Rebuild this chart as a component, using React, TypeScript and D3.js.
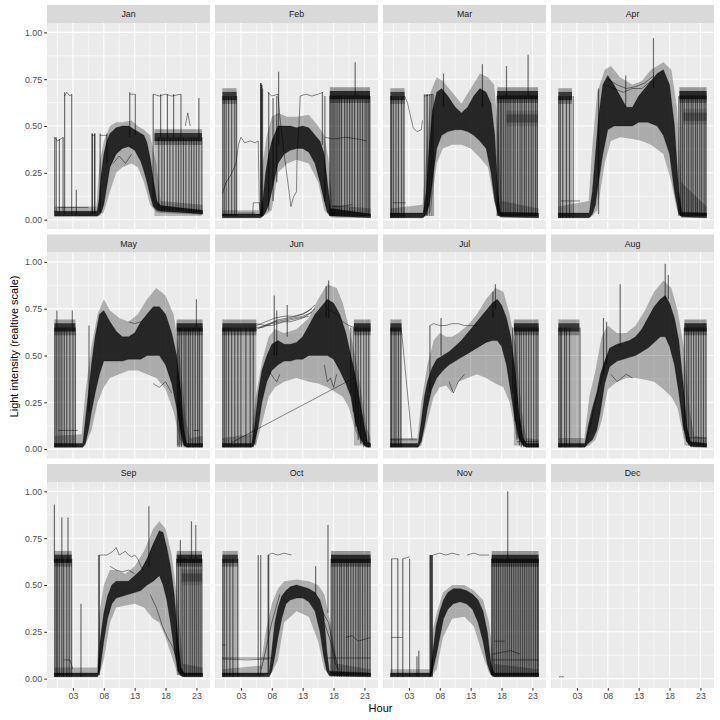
import React, { useEffect, useRef } from 'react';
import * as d3 from 'd3';

type Band = [number, number, number][]; // [hour, low, high]
type Lamp = [number, number, number, number, number][]; // [from, to, level, density, curtain]
type Switch = [number, number, number][]; // [hour, low, high]
type Stray = [number, number][][]; // grey single traces

const MONTHS = ['Jan', 'Feb', 'Mar', 'Apr', 'May', 'Jun', 'Jul', 'Aug', 'Sep', 'Oct', 'Nov', 'Dec'];
const X_BREAKS = [3, 8, 13, 18, 23];
const X_LABELS = ['03', '08', '13', '18', '23'];
const X_MINOR = [0.5, 5.5, 10.5, 15.5, 20.5];
const Y_BREAKS = [0, 0.25, 0.5, 0.75, 1];
const Y_LABELS = ['0.00', '0.25', '0.50', '0.75', '1.00'];
const Y_MINOR = [0.125, 0.375, 0.625, 0.875];

// ---- Jan
const janCore: Band = [[0, 0.02, 0.045], [6.9, 0.02, 0.045], [7.2, 0.025, 0.1], [7.6, 0.04, 0.25], [8, 0.08, 0.35], [8.5, 0.18, 0.42], [9, 0.28, 0.46], [10, 0.35, 0.49], [11, 0.38, 0.5], [12, 0.39, 0.5], [13, 0.37, 0.48], [14, 0.31, 0.46], [14.5, 0.26, 0.45], [15, 0.2, 0.41], [15.5, 0.13, 0.33], [16, 0.07, 0.22], [16.6, 0.05, 0.1], [17.2, 0.045, 0.075], [20, 0.04, 0.065], [24, 0.03, 0.05]];
const janHalo: Band = [[0, 0.015, 0.07], [6.8, 0.015, 0.07], [7.3, 0.02, 0.3], [8, 0.04, 0.42], [9, 0.15, 0.5], [10, 0.25, 0.52], [11, 0.28, 0.52], [12.5, 0.3, 0.53], [13.5, 0.28, 0.5], [14.5, 0.2, 0.48], [15.5, 0.08, 0.45], [16.5, 0.04, 0.3], [17.2, 0.035, 0.1], [24, 0.025, 0.08]];
const janLamp: Lamp = [[16.2, 23.9, 0.44, 0.85, 0.22]];
const janSwitch: Switch = [[0.05, 0.04, 0.44], [0.3, 0.04, 0.44], [0.8, 0.04, 0.43], [1.4, 0.04, 0.44], [1.65, 0.03, 0.68], [2.8, 0.03, 0.67], [3.55, 0.03, 0.16], [6.1, 0.03, 0.46], [6.15, 0.03, 0.46], [6.5, 0.03, 0.46], [6.55, 0.03, 0.46], [7.4, 0.04, 0.46], [8.5, 0.3, 0.46], [12.2, 0.44, 0.68], [13.1, 0.45, 0.67], [16.0, 0.1, 0.67], [16.9, 0.06, 0.44], [17.2, 0.44, 0.67], [17.4, 0.05, 0.44], [17.8, 0.05, 0.44], [18.3, 0.05, 0.67], [18.7, 0.05, 0.44], [19.2, 0.05, 0.44], [19.3, 0.44, 0.67], [19.7, 0.05, 0.44], [20.1, 0.05, 0.44], [20.5, 0.05, 0.67], [20.9, 0.05, 0.44], [21.3, 0.05, 0.44], [21.8, 0.04, 0.44], [22.2, 0.04, 0.44], [22.6, 0.04, 0.44], [23.0, 0.04, 0.44], [23.4, 0.04, 0.65], [23.9, 0.03, 0.44]];
const janStray: Stray = [
  [[0, 0.44], [0.5, 0.42], [1.0, 0.43], [1.4, 0.44]],
  [[1.65, 0.66], [2.0, 0.68], [2.5, 0.66], [2.8, 0.67]],
  [[0.5, 0.065], [5.5, 0.065]],
  [[6.1, 0.45], [6.5, 0.45]],
  [[7.4, 0.45], [8.5, 0.45]],
  [[12.2, 0.67], [13.1, 0.67]],
  [[16, 0.67], [17, 0.66], [18, 0.67], [19, 0.66], [20.5, 0.67]],
  [[21.2, 0.5], [21.6, 0.57], [22, 0.5]],
  [[9.5, 0.3], [10.5, 0.34], [11.5, 0.3], [12.5, 0.35]],
];

// ---- Feb
const febCore: Band = [[0, 0.01, 0.03], [6.2, 0.01, 0.03], [6.6, 0.02, 0.12], [7, 0.04, 0.25], [7.5, 0.08, 0.35], [8, 0.15, 0.42], [9, 0.3, 0.5], [10, 0.35, 0.5], [11, 0.37, 0.5], [12, 0.38, 0.49], [13, 0.38, 0.5], [14, 0.36, 0.49], [15, 0.3, 0.45], [15.8, 0.2, 0.42], [16.5, 0.1, 0.35], [17, 0.04, 0.2], [17.5, 0.02, 0.06], [24, 0.01, 0.03]];
const febHalo: Band = [[0, 0.01, 0.05], [6.1, 0.01, 0.05], [6.5, 0.02, 0.3], [7.2, 0.03, 0.45], [8, 0.05, 0.55], [9, 0.25, 0.57], [10.5, 0.3, 0.55], [12, 0.32, 0.55], [14, 0.3, 0.56], [15.5, 0.2, 0.5], [16.5, 0.05, 0.45], [17.3, 0.02, 0.3], [17.8, 0.01, 0.08], [24, 0.01, 0.06]];
const febLamp: Lamp = [[0, 2.3, 0.66, 0.8, 0.22], [17.4, 23.9, 0.665, 0.9, 0.32]];
const febSwitch: Switch = [[0.05, 0.02, 0.66], [0.3, 0.02, 0.66], [0.6, 0.02, 0.66], [1.0, 0.02, 0.66], [1.5, 0.02, 0.66], [2.0, 0.02, 0.66], [2.3, 0.02, 0.66], [6.2, 0.02, 0.73], [6.25, 0.02, 0.73], [6.3, 0.02, 0.72], [6.4, 0.02, 0.72], [6.5, 0.02, 0.7], [7.5, 0.05, 0.68], [8.2, 0.1, 0.65], [8.8, 0.2, 0.66], [9.1, 0.4, 0.79], [16.2, 0.4, 0.68], [16.6, 0.1, 0.66], [17.4, 0.02, 0.66], [17.6, 0.02, 0.66], [17.9, 0.02, 0.66], [18.1, 0.02, 0.66], [18.4, 0.02, 0.66], [18.7, 0.02, 0.66], [19.0, 0.02, 0.66], [19.3, 0.02, 0.66], [19.8, 0.02, 0.66], [20.2, 0.02, 0.66], [20.6, 0.02, 0.66], [21.0, 0.02, 0.66], [21.4, 0.02, 0.66], [21.5, 0.66, 0.84], [21.9, 0.02, 0.66], [22.3, 0.02, 0.66], [22.7, 0.02, 0.66], [23.1, 0.02, 0.66], [23.4, 0.02, 0.66], [23.7, 0.02, 0.66], [23.9, 0.02, 0.66]];
const febStray: Stray = [
  [[0, 0.14], [0.6, 0.2], [1.4, 0.24], [2.2, 0.3], [2.6, 0.4], [3.0, 0.44], [3.6, 0.41], [4.5, 0.42], [5.3, 0.41], [5.8, 0.42], [6.0, 0.05]],
  [[7.3, 0.68], [8, 0.66], [9, 0.67], [9.3, 0.55], [10, 0.35], [10.6, 0.2], [11.1, 0.07], [11.5, 0.12], [12.0, 0.15], [12.1, 0.36], [12.4, 0.5], [12.6, 0.66], [13.5, 0.67], [14.5, 0.66], [15.5, 0.67], [16.3, 0.68]],
  [[16.6, 0.44], [18, 0.43], [20, 0.44], [22, 0.43], [23.4, 0.42]],
  [[2.5, 0.035], [5.3, 0.035]],
  [[4.9, 0.02], [5, 0.09], [6, 0.09], [6.1, 0.02]],
  [[17.8, 0.07], [19, 0.07], [21, 0.08]],
];

// ---- Mar
const marCore: Band = [[0, 0.01, 0.035], [5.3, 0.01, 0.035], [5.8, 0.03, 0.15], [6.3, 0.08, 0.4], [6.8, 0.2, 0.58], [7.5, 0.38, 0.68], [8.3, 0.45, 0.7], [9.3, 0.47, 0.66], [10.5, 0.48, 0.6], [11.5, 0.48, 0.57], [12.5, 0.47, 0.6], [13.5, 0.45, 0.66], [14.5, 0.42, 0.7], [15.5, 0.38, 0.68], [16.3, 0.25, 0.62], [16.9, 0.1, 0.45], [17.4, 0.03, 0.15], [17.8, 0.015, 0.04], [24, 0.01, 0.035]];
const marHalo: Band = [[0, 0.01, 0.06], [5.2, 0.01, 0.08], [5.8, 0.02, 0.35], [6.5, 0.04, 0.68], [7.5, 0.3, 0.76], [8.5, 0.38, 0.74], [10, 0.4, 0.68], [11.5, 0.4, 0.62], [13, 0.38, 0.7], [14.5, 0.33, 0.78], [15.8, 0.28, 0.76], [16.8, 0.1, 0.72], [17.5, 0.02, 0.45], [18, 0.01, 0.1], [24, 0.01, 0.06]];
const marLamp: Lamp = [[0, 2.3, 0.66, 0.8, 0.25], [17.3, 23.9, 0.665, 0.9, 0.32], [18.8, 23.9, 0.54, 0.35, 0]];
const marSwitch: Switch = [[0.05, 0.01, 0.66], [0.2, 0.01, 0.66], [0.5, 0.01, 0.66], [0.9, 0.01, 0.66], [1.3, 0.01, 0.66], [1.8, 0.01, 0.66], [2.2, 0.01, 0.66], [5.5, 0.02, 0.67], [5.8, 0.02, 0.67], [6.0, 0.02, 0.67], [6.3, 0.02, 0.67], [6.6, 0.02, 0.67], [6.9, 0.02, 0.67], [8.6, 0.6, 0.78], [14.9, 0.6, 0.83], [17.3, 0.02, 0.66], [17.5, 0.02, 0.66], [17.8, 0.02, 0.66], [18.0, 0.02, 0.66], [18.3, 0.02, 0.66], [18.6, 0.02, 0.66], [18.8, 0.66, 0.82], [18.9, 0.02, 0.66], [19.2, 0.02, 0.66], [19.5, 0.02, 0.66], [19.9, 0.02, 0.66], [20.2, 0.02, 0.66], [20.6, 0.02, 0.66], [21.0, 0.02, 0.66], [21.3, 0.02, 0.66], [21.7, 0.02, 0.66], [22.0, 0.02, 0.66], [22.3, 0.66, 0.88], [22.4, 0.02, 0.66], [22.8, 0.02, 0.66], [23.1, 0.02, 0.66], [23.5, 0.02, 0.66], [23.8, 0.02, 0.66]];
const marStray: Stray = [
  [[2.3, 0.66], [2.8, 0.62], [3.2, 0.56], [3.7, 0.49], [4.3, 0.47], [5.0, 0.48], [5.2, 0.53]],
  [[0.4, 0.09], [1.5, 0.09], [2.5, 0.09]],
  [[5.5, 0.66], [6.9, 0.67]],
];

// ---- Apr
const aprCore: Band = [[0, 0.01, 0.035], [5, 0.01, 0.035], [5.5, 0.03, 0.15], [6, 0.08, 0.35], [6.5, 0.2, 0.55], [7.2, 0.35, 0.72], [8, 0.48, 0.77], [9, 0.5, 0.72], [10, 0.5, 0.66], [11, 0.5, 0.6], [12, 0.5, 0.6], [13, 0.52, 0.66], [14.5, 0.52, 0.72], [16, 0.5, 0.78], [17, 0.45, 0.8], [18, 0.35, 0.72], [18.8, 0.15, 0.5], [19.5, 0.03, 0.15], [20, 0.015, 0.04], [24, 0.01, 0.035]];
const aprHalo: Band = [[0, 0.01, 0.07], [4.9, 0.01, 0.1], [5.5, 0.02, 0.4], [6.3, 0.05, 0.68], [7.5, 0.3, 0.8], [8.5, 0.42, 0.82], [10, 0.44, 0.76], [12, 0.43, 0.72], [13.5, 0.42, 0.74], [15, 0.4, 0.8], [17, 0.35, 0.84], [18.3, 0.2, 0.8], [19.2, 0.05, 0.6], [19.9, 0.01, 0.2], [24, 0.01, 0.07]];
const aprLamp: Lamp = [[0, 2.2, 0.66, 0.8, 0.25], [19.6, 24, 0.665, 0.9, 0.32], [20.2, 24, 0.55, 0.35, 0]];
const aprSwitch: Switch = [[0.05, 0.01, 0.66], [0.3, 0.01, 0.66], [0.7, 0.01, 0.66], [1.3, 0.01, 0.66], [1.8, 0.01, 0.66], [2.4, 0.01, 0.66], [6.5, 0.03, 0.7], [10.9, 0.6, 0.77], [15.4, 0.7, 0.97], [19.5, 0.02, 0.66], [19.8, 0.02, 0.66], [20.1, 0.02, 0.66], [20.4, 0.02, 0.66], [20.8, 0.02, 0.66], [21.1, 0.02, 0.66], [21.5, 0.02, 0.66], [21.8, 0.02, 0.66], [22.2, 0.02, 0.66], [22.5, 0.02, 0.66], [22.9, 0.02, 0.66], [23.2, 0.02, 0.66], [23.6, 0.02, 0.66], [23.9, 0.02, 0.66]];
const aprStray: Stray = [
  [[0.4, 0.1], [2, 0.1], [3.5, 0.1]],
  [[7.5, 0.72], [9, 0.7], [10.5, 0.68], [12, 0.7], [13.5, 0.7], [15, 0.74]],
  [[8, 0.75], [9.5, 0.72], [11, 0.7], [12.5, 0.71], [14, 0.73], [15.5, 0.77]],
];

// ---- May
const mayCore: Band = [[0, 0.01, 0.03], [4.6, 0.01, 0.03], [5, 0.03, 0.15], [5.5, 0.1, 0.3], [6, 0.2, 0.45], [6.6, 0.3, 0.6], [7.3, 0.4, 0.72], [8, 0.47, 0.74], [9, 0.47, 0.68], [10, 0.47, 0.63], [11, 0.47, 0.6], [12, 0.48, 0.6], [13, 0.48, 0.62], [14, 0.48, 0.68], [15, 0.5, 0.72], [16, 0.5, 0.76], [17, 0.5, 0.76], [18, 0.45, 0.72], [19, 0.35, 0.62], [19.8, 0.22, 0.5], [20.5, 0.08, 0.3], [21, 0.02, 0.1], [21.4, 0.01, 0.03], [24, 0.01, 0.03]];
const mayHalo: Band = [[0, 0.01, 0.07], [4.4, 0.01, 0.08], [5, 0.02, 0.3], [6, 0.1, 0.55], [7, 0.25, 0.72], [8, 0.33, 0.8], [9, 0.38, 0.74], [10.5, 0.4, 0.7], [12, 0.42, 0.68], [13.5, 0.42, 0.72], [15, 0.4, 0.8], [16.5, 0.38, 0.86], [18, 0.32, 0.82], [19.3, 0.2, 0.72], [20.3, 0.05, 0.5], [21.3, 0.01, 0.15], [22, 0.01, 0.06], [24, 0.01, 0.07]];
const mayLamp: Lamp = [[0, 3.4, 0.65, 0.85, 0.28], [19.8, 24, 0.65, 0.9, 0.3]];
const maySwitch: Switch = [[0.05, 0.01, 0.65], [0.3, 0.01, 0.65], [0.4, 0.65, 0.74], [0.6, 0.01, 0.65], [0.9, 0.01, 0.65], [1.2, 0.01, 0.65], [1.6, 0.01, 0.65], [2.0, 0.01, 0.65], [2.5, 0.01, 0.65], [2.9, 0.65, 0.74], [3.0, 0.01, 0.65], [3.4, 0.01, 0.65], [5.6, 0.2, 0.66], [20.0, 0.01, 0.65], [20.3, 0.01, 0.65], [20.6, 0.01, 0.65], [21.0, 0.01, 0.65], [21.3, 0.01, 0.65], [21.7, 0.01, 0.65], [22.0, 0.01, 0.65], [22.4, 0.01, 0.65], [22.8, 0.01, 0.65], [23.0, 0.65, 0.8], [23.2, 0.01, 0.65], [23.5, 0.01, 0.65], [23.9, 0.01, 0.65]];
const mayStray: Stray = [
  [[0.6, 0.1], [2, 0.1], [3.8, 0.1]],
  [[12, 0.68], [13, 0.67], [14, 0.68]],
  [[22.5, 0.1], [23.5, 0.1]],
  [[16, 0.35], [17, 0.33], [18, 0.36], [19, 0.3]],
];

// ---- Jun
const junCore: Band = [[0, 0.01, 0.03], [4.8, 0.01, 0.03], [5.2, 0.03, 0.12], [5.8, 0.12, 0.3], [6.4, 0.25, 0.42], [7.2, 0.36, 0.5], [8, 0.42, 0.56], [9, 0.45, 0.58], [10, 0.47, 0.56], [11, 0.47, 0.56], [12, 0.48, 0.57], [13, 0.48, 0.6], [14, 0.5, 0.66], [15, 0.5, 0.72], [16, 0.5, 0.76], [17, 0.5, 0.8], [18, 0.48, 0.78], [19, 0.42, 0.72], [20, 0.35, 0.62], [20.8, 0.28, 0.5], [21.5, 0.15, 0.4], [22.3, 0.06, 0.25], [23, 0.02, 0.12], [23.5, 0.01, 0.04], [24, 0.01, 0.03]];
const junHalo: Band = [[0, 0.01, 0.06], [4.7, 0.01, 0.08], [5.5, 0.03, 0.3], [6.5, 0.15, 0.48], [7.5, 0.28, 0.6], [8.5, 0.33, 0.64], [10, 0.36, 0.62], [12, 0.38, 0.64], [14, 0.36, 0.7], [15.5, 0.35, 0.8], [17, 0.33, 0.88], [18.5, 0.3, 0.86], [19.5, 0.28, 0.78], [20.5, 0.22, 0.65], [21.5, 0.1, 0.5], [22.5, 0.03, 0.3], [23.3, 0.01, 0.12], [24, 0.01, 0.06]];
const junLamp: Lamp = [[0, 5.5, 0.65, 0.85, 0.26], [21.3, 24, 0.65, 0.9, 0.22]];
const junSwitch: Switch = [[0.05, 0.01, 0.65], [0.3, 0.01, 0.65], [0.6, 0.01, 0.65], [1.0, 0.01, 0.65], [1.5, 0.01, 0.65], [2.0, 0.01, 0.65], [2.5, 0.01, 0.65], [3.0, 0.01, 0.65], [3.8, 0.01, 0.65], [4.5, 0.01, 0.65], [5.0, 0.01, 0.65], [8.4, 0.5, 0.82], [8.8, 0.5, 0.74], [10.5, 0.6, 0.77], [16.8, 0.7, 0.87], [17.2, 0.7, 0.9], [20.8, 0.3, 0.65], [21.2, 0.2, 0.65], [21.6, 0.12, 0.65], [22.0, 0.05, 0.65], [22.4, 0.03, 0.65], [22.9, 0.01, 0.65], [23.3, 0.01, 0.65], [23.7, 0.01, 0.65]];
const junStray: Stray = [
  [[5.5, 0.64], [7, 0.66], [8, 0.66], [9, 0.67], [10, 0.68], [11, 0.68], [12, 0.69], [13, 0.7], [14, 0.72], [15, 0.75]],
  [[5.5, 0.66], [7, 0.68], [8.5, 0.7], [10, 0.71], [11.5, 0.71], [13, 0.72], [14, 0.74], [15, 0.77]],
  [[6, 0.65], [7.5, 0.67], [9, 0.69], [10.5, 0.7], [12, 0.71], [13.5, 0.73], [14.5, 0.75]],
  [[5.5, 0.65], [6.5, 0.65], [8, 0.67], [9.5, 0.68], [11, 0.69], [12.5, 0.7], [14, 0.71]],
  [[5.5, 0.67], [7, 0.66], [8.5, 0.68], [10, 0.69], [11.5, 0.7], [13, 0.71], [14.5, 0.73]],
  [[17, 0.75], [18.5, 0.72], [19.5, 0.68], [20.5, 0.66], [21.3, 0.65]],
  [[1.5, 0.035], [21.3, 0.38]],
  [[16.5, 0.45], [17, 0.36], [17.5, 0.38], [18, 0.33], [18.5, 0.4]],
  [[7.5, 0.42], [8.3, 0.38], [8.8, 0.36], [9.3, 0.4]],
];

// ---- Jul
const julCore: Band = [[0, 0.01, 0.03], [4.5, 0.01, 0.03], [5, 0.04, 0.15], [5.5, 0.12, 0.28], [6, 0.22, 0.36], [6.7, 0.32, 0.43], [7.5, 0.38, 0.48], [8.5, 0.42, 0.5], [9.5, 0.45, 0.52], [10.5, 0.47, 0.55], [11.5, 0.49, 0.58], [12.5, 0.51, 0.62], [13.5, 0.53, 0.66], [14.5, 0.55, 0.7], [15.5, 0.57, 0.74], [16.5, 0.58, 0.78], [17.3, 0.58, 0.8], [18, 0.55, 0.77], [18.8, 0.45, 0.7], [19.5, 0.3, 0.6], [20.2, 0.15, 0.42], [20.8, 0.06, 0.2], [21.5, 0.02, 0.06], [22, 0.01, 0.03], [24, 0.01, 0.03]];
const julHalo: Band = [[0, 0.01, 0.06], [4.4, 0.01, 0.06], [5, 0.02, 0.25], [6, 0.15, 0.45], [7, 0.28, 0.58], [8, 0.33, 0.62], [9, 0.34, 0.6], [10, 0.3, 0.6], [11, 0.36, 0.62], [12.5, 0.38, 0.66], [14, 0.4, 0.72], [15.5, 0.38, 0.8], [17, 0.35, 0.86], [18.3, 0.33, 0.84], [19.3, 0.25, 0.72], [20.3, 0.08, 0.55], [21.3, 0.02, 0.2], [22, 0.01, 0.06], [24, 0.01, 0.05]];
const julLamp: Lamp = [[0, 1.8, 0.65, 0.85, 0.28], [20, 24, 0.65, 0.9, 0.26]];
const julSwitch: Switch = [[0.05, 0.01, 0.65], [0.2, 0.01, 0.65], [0.6, 0.01, 0.65], [0.9, 0.01, 0.65], [1.3, 0.01, 0.65], [1.7, 0.01, 0.65], [6.4, 0.3, 0.66], [8.2, 0.5, 0.7], [16.6, 0.7, 0.84], [17, 0.75, 0.88], [19.8, 0.3, 0.65], [20.2, 0.15, 0.65], [20.5, 0.05, 0.65], [20.9, 0.02, 0.65], [21.2, 0.01, 0.65], [21.6, 0.01, 0.65], [22.0, 0.01, 0.65], [22.4, 0.01, 0.65], [22.8, 0.01, 0.65], [23.2, 0.01, 0.65], [23.6, 0.01, 0.65], [23.9, 0.01, 0.65]];
const julStray: Stray = [
  [[1.8, 0.63], [3.5, 0.05]],
  [[0, 0.05], [4.3, 0.05]],
  [[6.4, 0.66], [7, 0.67], [8, 0.66], [9, 0.66], [10, 0.67], [11, 0.67], [12, 0.66], [13, 0.66], [14, 0.66]],
  [[20.5, 0.04], [24, 0.04]],
  [[9.5, 0.36], [10.2, 0.3], [11, 0.36], [12, 0.4]],
];

// ---- Aug
const augCore: Band = [[0, 0.01, 0.03], [4.3, 0.01, 0.03], [4.8, 0.03, 0.12], [5.5, 0.05, 0.22], [6.2, 0.1, 0.3], [6.8, 0.2, 0.4], [7.5, 0.35, 0.47], [8.3, 0.44, 0.54], [9.5, 0.47, 0.56], [10.5, 0.48, 0.57], [11.5, 0.49, 0.58], [12.5, 0.5, 0.6], [13.5, 0.52, 0.64], [14.5, 0.54, 0.7], [15.5, 0.57, 0.76], [16.5, 0.6, 0.8], [17.3, 0.6, 0.82], [18, 0.55, 0.78], [18.8, 0.45, 0.7], [19.5, 0.3, 0.58], [20.2, 0.12, 0.35], [20.8, 0.04, 0.12], [21.4, 0.015, 0.04], [24, 0.01, 0.03]];
const augHalo: Band = [[0, 0.01, 0.06], [4.2, 0.01, 0.06], [5, 0.02, 0.28], [6, 0.05, 0.42], [7, 0.15, 0.6], [8, 0.32, 0.66], [9.5, 0.36, 0.62], [11, 0.38, 0.62], [12.5, 0.38, 0.66], [14, 0.37, 0.74], [15.5, 0.36, 0.84], [17, 0.32, 0.9], [18.3, 0.28, 0.86], [19.3, 0.22, 0.74], [20.3, 0.06, 0.55], [21.3, 0.02, 0.2], [22, 0.01, 0.07], [24, 0.01, 0.06]];
const augLamp: Lamp = [[0, 3.4, 0.65, 0.8, 0.25], [20.4, 24, 0.65, 0.9, 0.26]];
const augSwitch: Switch = [[0.05, 0.01, 0.65], [0.3, 0.01, 0.65], [0.5, 0.01, 0.65], [1.0, 0.01, 0.65], [1.3, 0.01, 0.65], [1.8, 0.01, 0.65], [3.5, 0.01, 0.65], [7.3, 0.4, 0.7], [7.8, 0.45, 0.68], [10, 0.55, 0.88], [17.3, 0.8, 0.99], [17.8, 0.8, 0.93], [20.4, 0.1, 0.65], [20.8, 0.04, 0.65], [21.1, 0.02, 0.65], [21.5, 0.01, 0.65], [21.9, 0.01, 0.65], [22.3, 0.01, 0.65], [22.7, 0.01, 0.65], [23.1, 0.01, 0.65], [23.5, 0.01, 0.65], [23.9, 0.01, 0.65]];
const augStray: Stray = [
  [[20.8, 0.06], [24, 0.06]],
  [[4.3, 0.02], [5, 0.1], [6, 0.25], [7, 0.38], [8, 0.5]],
  [[8.5, 0.4], [9.5, 0.36], [11, 0.4], [12, 0.38]],
];

// ---- Sep
const sepCore: Band = [[0, 0.01, 0.03], [7, 0.01, 0.03], [7.4, 0.05, 0.2], [8, 0.2, 0.35], [8.6, 0.32, 0.44], [9.3, 0.4, 0.5], [10, 0.43, 0.52], [11, 0.44, 0.52], [12, 0.45, 0.52], [13, 0.46, 0.55], [14, 0.47, 0.58], [15, 0.5, 0.64], [16, 0.52, 0.72], [17, 0.55, 0.79], [17.6, 0.5, 0.78], [18.2, 0.42, 0.7], [18.8, 0.3, 0.6], [19.4, 0.15, 0.45], [20, 0.04, 0.22], [20.5, 0.015, 0.06], [21, 0.01, 0.03], [24, 0.01, 0.03]];
const sepHalo: Band = [[0, 0.01, 0.06], [6.9, 0.01, 0.06], [7.3, 0.02, 0.35], [8, 0.1, 0.5], [9, 0.3, 0.58], [10, 0.38, 0.58], [11.5, 0.39, 0.56], [13, 0.4, 0.6], [14.5, 0.38, 0.68], [16, 0.32, 0.8], [17, 0.3, 0.84], [18, 0.22, 0.8], [19, 0.12, 0.66], [20, 0.02, 0.4], [20.8, 0.01, 0.08], [24, 0.01, 0.06]];
const sepLamp: Lamp = [[0, 2.8, 0.64, 0.85, 0.28], [19.8, 23.9, 0.64, 0.9, 0.3], [20.6, 23.9, 0.54, 0.35, 0]];
const sepSwitch: Switch = [[0.0, 0.62, 0.93], [0.05, 0.01, 0.64], [0.3, 0.01, 0.64], [0.5, 0.01, 0.64], [0.8, 0.01, 0.64], [1.2, 0.01, 0.64], [1.2, 0.62, 0.86], [1.5, 0.01, 0.64], [2.0, 0.01, 0.64], [2.2, 0.62, 0.86], [2.4, 0.01, 0.64], [2.8, 0.01, 0.64], [4.3, 0.01, 0.4], [7.2, 0.02, 0.66], [7.25, 0.02, 0.66], [15.3, 0.6, 0.92], [19.8, 0.1, 0.64], [20.1, 0.04, 0.64], [20.4, 0.6, 0.74], [20.5, 0.02, 0.64], [20.8, 0.01, 0.64], [21.1, 0.01, 0.64], [21.4, 0.01, 0.64], [21.8, 0.01, 0.64], [22.1, 0.01, 0.64], [22.2, 0.64, 0.84], [22.4, 0.01, 0.64], [22.7, 0.01, 0.64], [22.9, 0.64, 0.82], [23.0, 0.01, 0.64], [23.3, 0.01, 0.64], [23.6, 0.01, 0.64], [23.9, 0.01, 0.64]];
const sepStray: Stray = [
  [[7.3, 0.66], [8, 0.66], [8.5, 0.66], [9, 0.67], [9.5, 0.68], [10, 0.7], [10.5, 0.66], [11, 0.67], [11.5, 0.68], [12, 0.66], [12.5, 0.65], [13, 0.66], [13.5, 0.64], [14, 0.6], [14.5, 0.58]],
  [[9, 0.6], [10, 0.58], [11, 0.57], [12, 0.58], [13, 0.56]],
  [[15.5, 0.45], [16.5, 0.38], [17.5, 0.28], [18.3, 0.22], [19, 0.18], [19.7, 0.12]],
  [[1.5, 0.1], [2.5, 0.1], [3, 0.05]],
];

// ---- Oct
const octCore: Band = [[0, 0.01, 0.03], [7.6, 0.01, 0.03], [8, 0.04, 0.15], [8.5, 0.12, 0.3], [9, 0.22, 0.38], [9.6, 0.32, 0.44], [10.3, 0.4, 0.47], [11, 0.42, 0.49], [12, 0.43, 0.5], [13, 0.43, 0.49], [14, 0.41, 0.48], [15, 0.36, 0.46], [15.8, 0.25, 0.42], [16.4, 0.12, 0.35], [16.9, 0.04, 0.15], [17.3, 0.015, 0.04], [24, 0.01, 0.03]];
const octHalo: Band = [[0, 0.01, 0.05], [6.2, 0.01, 0.07], [7, 0.02, 0.25], [8, 0.03, 0.4], [9, 0.1, 0.48], [10, 0.3, 0.52], [12, 0.36, 0.53], [14, 0.33, 0.52], [15.5, 0.2, 0.5], [16.5, 0.05, 0.45], [17.5, 0.02, 0.3], [18.6, 0.01, 0.08], [24, 0.01, 0.05]];
const octLamp: Lamp = [[0, 2.5, 0.64, 0.8, 0.25], [17.6, 24, 0.64, 0.9, 0.32]];
const octSwitch: Switch = [[0.05, 0.01, 0.64], [0.3, 0.01, 0.64], [0.7, 0.01, 0.64], [1.2, 0.01, 0.64], [1.7, 0.01, 0.64], [2.5, 0.01, 0.64], [5.8, 0.02, 0.66], [6.2, 0.02, 0.66], [7.4, 0.03, 0.66], [7.5, 0.03, 0.66], [15.1, 0.45, 0.6], [17.1, 0.35, 0.82], [17.6, 0.01, 0.64], [17.9, 0.01, 0.64], [18.2, 0.01, 0.64], [18.6, 0.01, 0.64], [19.0, 0.01, 0.64], [19.3, 0.01, 0.64], [19.7, 0.01, 0.64], [20.1, 0.01, 0.64], [20.4, 0.01, 0.64], [20.8, 0.01, 0.64], [21.2, 0.01, 0.64], [21.6, 0.01, 0.64], [22.0, 0.01, 0.64], [22.3, 0.01, 0.64], [22.7, 0.01, 0.64], [23.1, 0.01, 0.64], [23.5, 0.01, 0.64], [23.9, 0.01, 0.64]];
const octStray: Stray = [
  [[0, 0.11], [4, 0.11], [8.2, 0.11]],
  [[0, 0.105], [4, 0.1], [7.5, 0.105]],
  [[16.9, 0.11], [20, 0.11], [24, 0.11]],
  [[0, 0.18], [0.5, 0.18]],
  [[7.4, 0.66], [8, 0.67], [9, 0.66], [10, 0.67], [11.2, 0.66]],
  [[20, 0.22], [21, 0.23], [22, 0.2], [24, 0.22]],
  [[6.3, 0.05], [7, 0.15], [8, 0.3], [9.3, 0.45]],
  [[16.5, 0.3], [17.5, 0.2], [18.3, 0.08], [18.8, 0.04]],
  [[16.3, 0.35], [17.2, 0.3], [18, 0.15], [18.8, 0.05]],
];

// ---- Nov
const novCore: Band = [[0, 0.01, 0.03], [6.5, 0.01, 0.03], [6.9, 0.05, 0.15], [7.4, 0.12, 0.28], [8, 0.22, 0.36], [8.6, 0.32, 0.42], [9.3, 0.37, 0.46], [10.2, 0.4, 0.48], [11.3, 0.41, 0.48], [12.3, 0.4, 0.47], [13.3, 0.37, 0.45], [14.2, 0.3, 0.42], [15, 0.2, 0.36], [15.7, 0.08, 0.25], [16.3, 0.02, 0.08], [16.8, 0.01, 0.03], [24, 0.01, 0.03]];
const novHalo: Band = [[0, 0.01, 0.05], [6.4, 0.01, 0.05], [6.8, 0.02, 0.25], [7.5, 0.05, 0.35], [8.5, 0.22, 0.46], [10, 0.32, 0.5], [12, 0.33, 0.5], [13.5, 0.28, 0.47], [15, 0.12, 0.42], [16, 0.03, 0.3], [16.8, 0.01, 0.08], [24, 0.01, 0.05]];
const novLamp: Lamp = [[16.4, 24, 0.64, 0.9, 0.36]];
const novSwitch: Switch = [[0.2, 0.01, 0.64], [1.2, 0.01, 0.64], [2.0, 0.01, 0.64], [3.1, 0.01, 0.64], [4.3, 0.01, 0.12], [4.6, 0.01, 0.15], [6.4, 0.01, 0.66], [6.5, 0.01, 0.66], [6.6, 0.01, 0.66], [6.7, 0.01, 0.66], [6.8, 0.01, 0.66], [16.4, 0.02, 0.64], [16.6, 0.01, 0.64], [16.9, 0.01, 0.64], [17.2, 0.01, 0.64], [17.5, 0.01, 0.64], [17.8, 0.01, 0.64], [18.1, 0.01, 0.64], [18.4, 0.01, 0.64], [18.7, 0.01, 0.64], [19.0, 0.01, 1.0], [19.3, 0.01, 0.64], [19.6, 0.01, 0.64], [19.9, 0.01, 0.64], [20.2, 0.01, 0.64], [20.5, 0.01, 0.64], [20.8, 0.01, 0.64], [21.1, 0.01, 0.64], [21.4, 0.01, 0.64], [21.7, 0.01, 0.64], [22.0, 0.01, 0.64], [22.3, 0.01, 0.64], [22.6, 0.01, 0.64], [22.9, 0.01, 0.64], [23.2, 0.01, 0.64], [23.5, 0.01, 0.64], [23.8, 0.01, 0.64], [23.95, 0.01, 0.64]];
const novStray: Stray = [
  [[0.2, 0.64], [1.2, 0.64]],
  [[2.0, 0.64], [3.1, 0.65]],
  [[0.2, 0.22], [2.0, 0.22]],
  [[6.9, 0.66], [8, 0.67], [9, 0.66], [10, 0.67], [11.2, 0.66]],
  [[12.4, 0.66], [13.5, 0.67], [14.5, 0.66], [16, 0.66]],
  [[16.5, 0.13], [18, 0.14], [19.5, 0.15], [21, 0.13]],
  [[16.5, 0.1], [20, 0.1], [24, 0.1]],
  [[16.8, 0.2], [18.5, 0.2]],
];

// ---- Dec
const decStray: Stray = [[[0.1, 0.01], [0.9, 0.01]]];

const panels = [
  { name: MONTHS[0], core: janCore, halo: janHalo, lamps: janLamp, switches: janSwitch, strays: janStray },
  { name: MONTHS[1], core: febCore, halo: febHalo, lamps: febLamp, switches: febSwitch, strays: febStray },
  { name: MONTHS[2], core: marCore, halo: marHalo, lamps: marLamp, switches: marSwitch, strays: marStray },
  { name: MONTHS[3], core: aprCore, halo: aprHalo, lamps: aprLamp, switches: aprSwitch, strays: aprStray },
  { name: MONTHS[4], core: mayCore, halo: mayHalo, lamps: mayLamp, switches: maySwitch, strays: mayStray },
  { name: MONTHS[5], core: junCore, halo: junHalo, lamps: junLamp, switches: junSwitch, strays: junStray },
  { name: MONTHS[6], core: julCore, halo: julHalo, lamps: julLamp, switches: julSwitch, strays: julStray },
  { name: MONTHS[7], core: augCore, halo: augHalo, lamps: augLamp, switches: augSwitch, strays: augStray },
  { name: MONTHS[8], core: sepCore, halo: sepHalo, lamps: sepLamp, switches: sepSwitch, strays: sepStray },
  { name: MONTHS[9], core: octCore, halo: octHalo, lamps: octLamp, switches: octSwitch, strays: octStray },
  { name: MONTHS[10], core: novCore, halo: novHalo, lamps: novLamp, switches: novSwitch, strays: novStray },
  { name: MONTHS[11], core: [] as Band, halo: [] as Band, lamps: [] as Lamp, switches: [] as Switch, strays: decStray },
];

const FONT = "'Liberation Sans', Arial, Helvetica, sans-serif";

export default function App() {
  const svgRef = useRef<SVGSVGElement>(null);

  useEffect(() => {
    if (!svgRef.current) return;
    document.body.style.margin = '0';
    const svg = d3.select(svgRef.current);
    svg.selectAll('*').remove();

    const width = 720;
    const height = 720;
    const colLeft = [47, 215, 383, 551];
    const rowTop = [5, 234.5, 464];
    const panelW = 163;
    const panelH = 206;
    const stripH = 18;

    svg.attr('width', width).attr('height', height).style('font-family', FONT);
    svg.append('rect').attr('width', width).attr('height', height).attr('fill', '#ffffff');
    const defs = svg.append('defs');

    panels.forEach((p, i) => {
      const col = i % 4;
      const row = Math.floor(i / 4);
      const left = colLeft[col];
      const top = rowTop[row] + stripH;

      const x = d3.scaleLinear().domain([-1.2, 25.2]).range([left, left + panelW]);
      const y = d3.scaleLinear().domain([-0.05, 1.05]).range([top + panelH, top]);

      // strip
      svg.append('rect')
        .attr('x', left).attr('y', rowTop[row])
        .attr('width', panelW).attr('height', stripH)
        .attr('fill', '#d9d9d9');
      svg.append('text')
        .attr('x', left + panelW / 2).attr('y', rowTop[row] + stripH / 2)
        .attr('text-anchor', 'middle').attr('dominant-baseline', 'central')
        .attr('fill', '#1a1a1a').attr('font-size', '8.8px')
        .text(p.name);

      // panel
      svg.append('rect')
        .attr('x', left).attr('y', top)
        .attr('width', panelW).attr('height', panelH)
        .attr('fill', '#ebebeb');

      const grid = svg.append('g');
      X_MINOR.forEach((h) => {
        grid.append('line').attr('x1', x(h)).attr('x2', x(h)).attr('y1', top).attr('y2', top + panelH)
          .attr('stroke', '#fff').attr('stroke-width', 0.55);
      });
      Y_MINOR.forEach((v) => {
        grid.append('line').attr('x1', left).attr('x2', left + panelW).attr('y1', y(v)).attr('y2', y(v))
          .attr('stroke', '#fff').attr('stroke-width', 0.55);
      });
      X_BREAKS.forEach((h) => {
        grid.append('line').attr('x1', x(h)).attr('x2', x(h)).attr('y1', top).attr('y2', top + panelH)
          .attr('stroke', '#fff').attr('stroke-width', 1.1);
      });
      Y_BREAKS.forEach((v) => {
        grid.append('line').attr('x1', left).attr('x2', left + panelW).attr('y1', y(v)).attr('y2', y(v))
          .attr('stroke', '#fff').attr('stroke-width', 1.1);
      });

      defs.append('clipPath').attr('id', `clip${i}`)
        .append('rect').attr('x', left).attr('y', top).attr('width', panelW).attr('height', panelH);
      const g = svg.append('g').attr('clip-path', `url(#clip${i})`);

      const area = d3.area<[number, number, number]>()
        .x((d) => x(d[0]))
        .y0((d) => y(d[1]))
        .y1((d) => y(d[2]));

      // curtain of on/off traces below each lamp plateau
      p.lamps.forEach(([from, to, level, , curtain]) => {
        if (!curtain) return;
        const c: [number, number, number][] = [[from, 0.02, level], [to, 0.02, level]];
        g.append('path').datum(c).attr('d', area)
          .attr('fill', '#000').attr('fill-opacity', curtain);
      });

      if (p.halo.length) {
        g.append('path').datum(p.halo).attr('d', area)
          .attr('fill', '#000').attr('fill-opacity', 0.27);
      }

      // on/off switches
      p.switches.forEach(([h, lo, hi]) => {
        g.append('line')
          .attr('x1', x(h)).attr('x2', x(h))
          .attr('y1', y(lo)).attr('y2', y(hi))
          .attr('stroke', '#000').attr('stroke-opacity', 0.55).attr('stroke-width', 1.2);
      });

      // lamp plateaus (thick noisy bands, soft edge + dense middle)
      p.lamps.forEach(([from, to, level, dens]) => {
        const outer: [number, number, number][] = [[from, level - 0.042, level + 0.042], [to, level - 0.042, level + 0.042]];
        const inner: [number, number, number][] = [[from, level - 0.022, level + 0.022], [to, level - 0.022, level + 0.022]];
        g.append('path').datum(outer).attr('d', area)
          .attr('fill', '#000').attr('fill-opacity', dens * 0.4);
        g.append('path').datum(inner).attr('d', area)
          .attr('fill', '#000').attr('fill-opacity', dens * 0.8);
      });

      if (p.core.length) {
        g.append('path').datum(p.core).attr('d', area)
          .attr('fill', '#000').attr('fill-opacity', 0.78)
          .attr('stroke', '#000').attr('stroke-opacity', 0.35).attr('stroke-width', 0.8);
      }

      const line = d3.line<[number, number]>().x((d) => x(d[0])).y((d) => y(d[1]));
      p.strays.forEach((s) => {
        g.append('path').datum(s).attr('d', line)
          .attr('fill', 'none').attr('stroke', '#000')
          .attr('stroke-opacity', 0.45).attr('stroke-width', 1);
      });

      // axes
      if (col === 0) {
        const ay = svg.append('g').attr('transform', `translate(${left},0)`)
          .call(d3.axisLeft(y).tickValues(Y_BREAKS).tickSize(2.75).tickPadding(2.2)
            .tickFormat((_, k) => Y_LABELS[k]));
        ay.select('.domain').remove();
        ay.selectAll('line').attr('stroke', '#333333').attr('stroke-width', 1.05);
        ay.selectAll('text').attr('fill', '#4d4d4d').attr('font-size', '8.8px').attr('font-family', FONT);
        ay.attr('font-family', FONT);
      }
      if (row === 2) {
        const ax = svg.append('g').attr('transform', `translate(0,${top + panelH})`)
          .call(d3.axisBottom(x).tickValues(X_BREAKS).tickSize(2.75).tickPadding(2.2)
            .tickFormat((_, k) => X_LABELS[k]));
        ax.select('.domain').remove();
        ax.selectAll('line').attr('stroke', '#333333').attr('stroke-width', 1.05);
        ax.selectAll('text').attr('fill', '#4d4d4d').attr('font-size', '8.8px').attr('font-family', FONT);
        ax.attr('font-family', FONT);
      }
    });

    svg.append('text')
      .attr('x', (colLeft[0] + colLeft[3] + panelW) / 2).attr('y', 712)
      .attr('text-anchor', 'middle').attr('fill', '#000').attr('font-size', '11px')
      .text('Hour');

    svg.append('text')
      .attr('transform', `translate(17.5,${(rowTop[0] + rowTop[2] + stripH + panelH) / 2}) rotate(-90)`)
      .attr('text-anchor', 'middle').attr('fill', '#000').attr('font-size', '11px')
      .text('Light intensity (realtive scale)');
  }, []);

  return <svg ref={svgRef} style={{ display: 'block' }}></svg>;
}
